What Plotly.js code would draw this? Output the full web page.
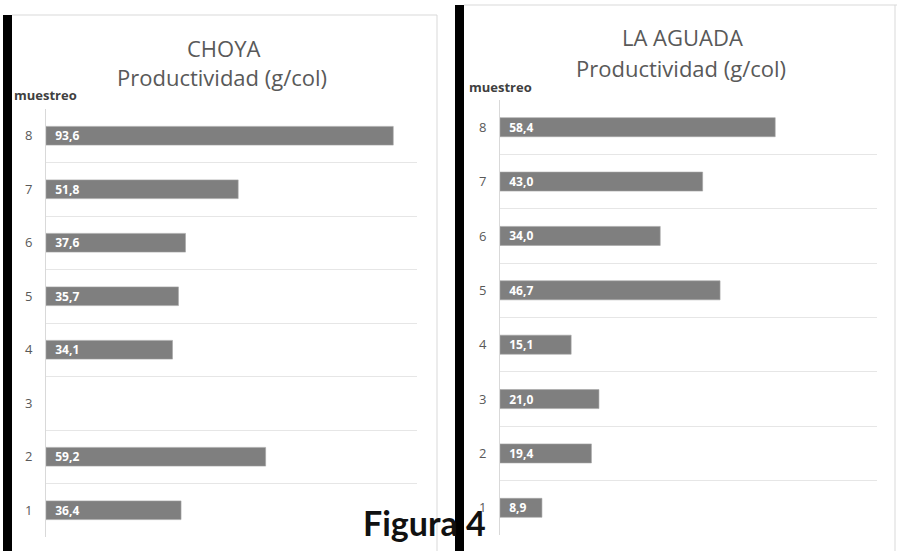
<!DOCTYPE html>
<html>
<head>
<meta charset="utf-8">
<script src="https://cdn.plot.ly/plotly-3.0.1.min.js"></script>
<style>html,body{margin:0;padding:0;background:#fff;}#chart{width:901px;height:551px;}</style>
</head>
<body>
<div id="chart"></div>
<script>
// ---- data ----
const categories = ["1", "2", "3", "4", "5", "6", "7", "8"];
const choyaValues = [36.4, 59.2, null, 34.1, 35.7, 37.6, 51.8, 93.6];
const aguadaValues = [8.9, 19.4, 21.0, 15.1, 46.7, 34.0, 43.0, 58.4];
const choyaTitle = ["CHOYA", "Productividad (g/col)"];
const aguadaTitle = ["LA AGUADA", "Productividad (g/col)"];
const axisLabel = "muestreo";
const figureLabel = "Figura 4";

// ---- layout helpers (pixel -> paper) ----
const W = 901, H = 551;
const px = x => x / W;
const py = y => 1 - y / H;

const barStyle = {
  type: 'bar', orientation: 'h',
  marker: {color: '#7f7f7f', line: {color: '#a6a6a6', width: 0.6}},
  width: 0.35,
  texttemplate: '\u00a0\u00a0<b>%{x:.1f}</b>',
  textposition: 'inside', insidetextanchor: 'start',
  constraintext: 'none',
  textfont: {color: '#ffffff', size: 12, family: 'Open Sans, sans-serif'},
  hoverinfo: 'skip', showlegend: false
};

const traces = [
  Object.assign({}, barStyle, {x: choyaValues, y: categories, xaxis: 'x', yaxis: 'y'}),
  Object.assign({}, barStyle, {x: aguadaValues, y: categories, xaxis: 'x2', yaxis: 'y2'})
];

const yBase = {
  type: 'category', categoryorder: 'array', categoryarray: categories,
  tickson: 'boundaries', ticks: '', showgrid: true, gridcolor: '#e6e6e6', gridwidth: 1,
  showline: true, linecolor: '#d9d9d9', linewidth: 1,
  tickfont: {size: 13, color: '#595959', family: 'Open Sans, sans-serif'},
  ticklabelstandoff: 10, fixedrange: true
};
const xBase = {showgrid: false, zeroline: false, showticklabels: false, ticks: '', showline: false, fixedrange: true};

function ann(text, x, y, opts) {
  return Object.assign({text: text, x: px(x), y: py(y), xref: 'paper', yref: 'paper',
    showarrow: false, xanchor: 'center', yanchor: 'middle',
    font: {size: 22, color: '#595959', family: 'Open Sans, sans-serif'}}, opts || {});
}
function rect(x0, y0, x1, y1, color) {
  return {type: 'rect', xref: 'paper', yref: 'paper', x0: px(x0), x1: px(x1), y0: py(y1), y1: py(y0),
    fillcolor: color, line: {width: 0}};
}
function line(x0, y0, x1, y1) {
  return {type: 'line', xref: 'paper', yref: 'paper', x0: px(x0), x1: px(x1), y0: py(y0), y1: py(y1),
    line: {color: '#d9d9d9', width: 1}};
}

const layout = {
  width: W, height: H, margin: {l: 0, r: 0, t: 0, b: 0},
  paper_bgcolor: '#ffffff', plot_bgcolor: 'rgba(0,0,0,0)',
  separators: ',.', showlegend: false, bargap: 0.65,
  xaxis: Object.assign({}, xBase, {domain: [px(46), px(417)], range: [0, 100], anchor: 'y'}),
  yaxis: Object.assign({}, yBase, {domain: [py(537), py(109)], anchor: 'x'}),
  xaxis2: Object.assign({}, xBase, {domain: [px(500), px(877)], range: [0, 80], anchor: 'y2'}),
  yaxis2: Object.assign({}, yBase, {domain: [py(535), py(100)], anchor: 'x2'}),
  shapes: [
    line(12, 15, 437, 15), line(437, 15, 437, 551),
    line(464, 5, 897, 5), line(895, 5, 895, 551),
    rect(3, 15, 12, 551, '#000000'),
    rect(455, 5, 464, 551, '#000000')
  ],
  annotations: [
    ann(choyaTitle[0], 223, 48),
    ann(choyaTitle[1], 222, 77),
    ann(aguadaTitle[0], 682, 37),
    ann(aguadaTitle[1], 681, 68),
    ann('<b>' + axisLabel + '</b>', 12, 95, {xanchor: 'left', font: {size: 13, color: '#404040', family: 'Open Sans, sans-serif'}}),
    ann('<b>' + axisLabel + '</b>', 467, 87, {xanchor: 'left', font: {size: 13, color: '#404040', family: 'Open Sans, sans-serif'}}),
    ann('<b>' + figureLabel + '</b>', 361, 522, {xanchor: 'left', font: {size: 34, color: '#111111', family: 'Lato, sans-serif'}})
  ]
};

Plotly.newPlot('chart', traces, layout, {staticPlot: true, displayModeBar: false});
</script>
</body>
</html>
